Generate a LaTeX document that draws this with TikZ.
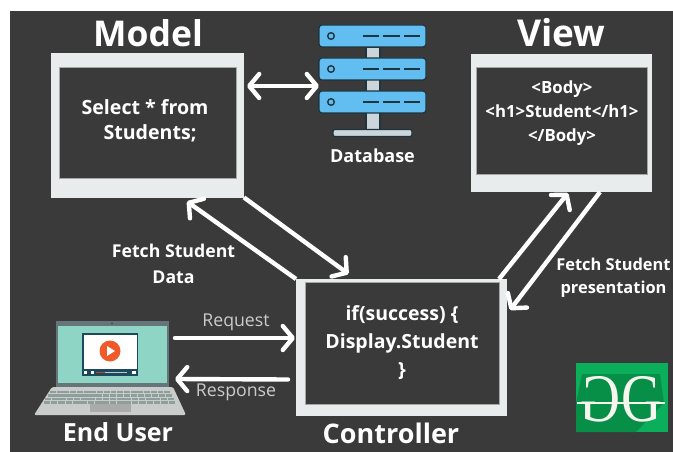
\documentclass[tikz,border=0pt]{standalone}
\usepackage{fontspec}
\setmainfont{Open Sans}
\newfontfamily\logofont{Liberation Serif}
\usetikzlibrary{arrows.meta}
\definecolor{bgdark}{HTML}{3A3A3A}
\definecolor{panel}{HTML}{E9ECEC}
\definecolor{dbblue}{HTML}{62BDF0}
\definecolor{dbdark}{HTML}{1E3540}
\definecolor{dbgray}{HTML}{CBD5DA}
\definecolor{lapteal}{HTML}{8FD5C5}
\definecolor{lapframe}{HTML}{66757A}
\definecolor{lapbase}{HTML}{CACCCB}
\definecolor{lapkey}{HTML}{8E9E9A}
\definecolor{vidbar}{HTML}{1C4A5C}
\definecolor{playorange}{HTML}{F0592A}
\definecolor{gfgl}{HTML}{0BAE5B}
\definecolor{gfgd}{HTML}{078F48}
\definecolor{gfgw}{HTML}{F7F6EE}
\tikzset{
 x=1pt,y=-1pt,
 outerbox/.style={fill=panel,draw=none,inner sep=0,outer sep=0},
 innerbox/.style={fill=bgdark,draw=gray!70,line width=.5pt,inner sep=0,outer sep=0},
 title/.style={text=white,font=\bfseries\fontsize{35.5}{35}\selectfont,inner sep=0},
 subtitle/.style={text=white,font=\bfseries\fontsize{25}{26}\selectfont,inner sep=0},
 small/.style={text=white,inner sep=0,align=center},
 light/.style={text=lapbase,font=\fontsize{17.7}{18}\selectfont,inner sep=0},
 conn/.style={draw=white,line width=4.4pt,-{Straight Barb[length=10pt,width=24pt,line width=4.4pt,round]}},
 conntwo/.style={draw=white,line width=4.4pt,{Straight Barb[length=10pt,width=24pt,line width=4.4pt,round]}-{Straight Barb[length=10pt,width=24pt,line width=4.4pt,round]}},
 dbrow/.style={fill=dbblue,draw=dbdark,line width=1.2pt,rounded corners=3pt},
 dbdash/.style={draw=dbdark,line width=1.2pt},
}
\begin{document}
\begin{tikzpicture}
\useasboundingbox (0,0) rectangle (673,452);
\fill[white] (0,0) rectangle (673,452);
\fill[bgdark] (10,11) rectangle (673,452);
% Titles
\node[title] (tmodel) at (148,33) {Model};
\node[title,font=\bfseries\fontsize{37}{37}\selectfont] (tview) at (561.5,33) {View};
\node[subtitle,font=\bfseries\fontsize{27}{27}\selectfont] (tctrl) at (391,433) {Controller};
\node[subtitle] (tuser) at (118,432) {End User};
% Model
\node[outerbox,minimum width=193pt,minimum height=144pt] (model) at (147.5,125.5) {};
\node[innerbox,minimum width=177pt,minimum height=111pt] (modelin) at (147.5,122.5) {};
\node[small,font=\bfseries\fontsize{19.6}{25.5}\selectfont] (modeltxt) at (145,121) {Select * from\\\hspace*{10pt}Students;};
% View
\node[outerbox,minimum width=181pt,minimum height=138pt] (view) at (561.5,123) {};
\node[innerbox,minimum width=171pt,minimum height=107pt] (viewin) at (561.5,120.5) {};
\node[small,font=\bfseries\fontsize{16.8}{24}\selectfont] (viewtxt) at (562,113) {<Body>\\<h1>Student</h1>\\</Body>};
% Controller
\node[outerbox,minimum width=211pt,minimum height=137pt] (ctrl) at (401.5,347.5) {};
\node[innerbox,minimum width=194pt,minimum height=122pt] (ctrlin) at (402,343) {};
\node[small,font=\bfseries\fontsize{19.5}{28}\selectfont] (ctrltxt) at (402,343) {if(success) \{\\Display.Student\\\}};
% Database
\draw[fill=dbgray,draw=dbdark,line width=1.2pt] (366,47) rectangle (380,130);
\draw[fill=dbgray,draw=dbdark,line width=1.2pt,rounded corners=2pt] (333,129.5) rectangle (412,136.5);
\foreach \yy in {25,58,91}{
  \draw[dbrow] (319,\yy) rectangle (426,\yy+22);
  \draw[fill=dbblue,draw=dbdark,line width=1.4pt] (331,\yy+11) circle (3.3);
  \draw[dbdash] (363,\yy+11) -- (379,\yy+11) (383,\yy+11) -- (400,\yy+11) (404,\yy+11) -- (420,\yy+11);
}
\coordinate (dbport) at (319,86);
\node[small,font=\bfseries\fontsize{18}{18}\selectfont] (dbtxt) at (372.5,156) {Database};
% Laptop
\fill[lapbase,rounded corners=1.5pt] (52,387) -- (173,387) -- (186,415) -- (34,415) -- cycle;
\foreach \r/\yy/\ll/\rr in {0/390.5/50/171,1/394/47.5/173,2/397.5/45/175,3/401/43.5/176}{
  \foreach \k in {0,...,17}{
    \pgfmathsetmacro{\ww}{(\rr-\ll)/18}
    \fill[lapkey] (\ll+\k*\ww,\yy) rectangle (\ll+\k*\ww+\ww-.8,\yy+2.8);
  }
}
\fill[gray!45!lapbase] (90,404) rectangle (131,412);
\fill[lapframe] (56,321) rectangle (169,387);
\fill[lapteal] (58,326) rectangle (167,383);
\fill[black!70] (112,323.5) circle (1.2);
\fill[vidbar] (82,333) rectangle (138,376);
\fill[white] (84,335) rectangle (137,369);
\fill[playorange] (110,351) circle (10.5);
\fill[white] (107,346) -- (115,351) -- (107,356) -- cycle;
\fill[playorange!80!black] (96,371.5) rectangle (105,373);
\fill[white!70!vidbar] (105,371.5) rectangle (127,373);
\fill[white] (91,370.5) rectangle (94,374);
\fill[white] (84,371) rectangle (87,373.5);
\fill[white] (132,371) rectangle (136,373.5);
\coordinate (lapin) at (175,338);
\coordinate (lapout) at (175,379);
% Connectors
\draw[conn] (ctrl.north west) -- ([shift={(-57,4)}]model.south east);
\draw[conn] (model.south east) -- ([shift={(-53,-5)}]ctrl.north);
\draw[conn] ([shift={(-8,0)}]ctrl.north east) -- ([shift={(-84,1)}]view.south east);
\draw[conn] ([shift={(-52,0)}]view.south east) -- ([shift={(3,31)}]ctrl.north east);
\draw[conntwo] ([shift={(3,-111.5)}]model.south east) -- (dbport);
\draw[conn,line cap=round] (lapin) -- ([shift={(-1,-9.5)}]ctrl.west);
\draw[conn,line cap=round] ([shift={(-8,32)}]ctrl.west) -- (lapout);
\node[light] (req) at (236,322) {Request};
\node[light] (resp) at (236,392) {Response};
\node[small,font=\bfseries\fontsize{17.7}{25.5}\selectfont] (lab1) at (173.5,264) {Fetch Student\\Data};
\node[small,font=\bfseries\fontsize{16.4}{23}\selectfont] (lab2) at (613.5,278) {Fetch Student\\presentation};
% Logo
\fill[gfgl] (576,363) rectangle (668,432);
\fill[gfgd] (582,374) -- (660,374) -- (664,403) -- (636,432) -- (576,432) -- (576,403) -- cycle;
\node[text=gfgw,inner sep=0,font=\logofont\fontsize{68}{68}\selectfont,xscale=-.82,yscale=1,transform shape] (g1) at (600.5,399.5) {G};
\node[text=gfgw,inner sep=0,font=\logofont\fontsize{68}{68}\selectfont,xscale=.82,yscale=1,transform shape] (g2) at (641.5,399.5) {G};
\fill[gfgw] (577,402) rectangle (665,404);
\end{tikzpicture}
\end{document}
